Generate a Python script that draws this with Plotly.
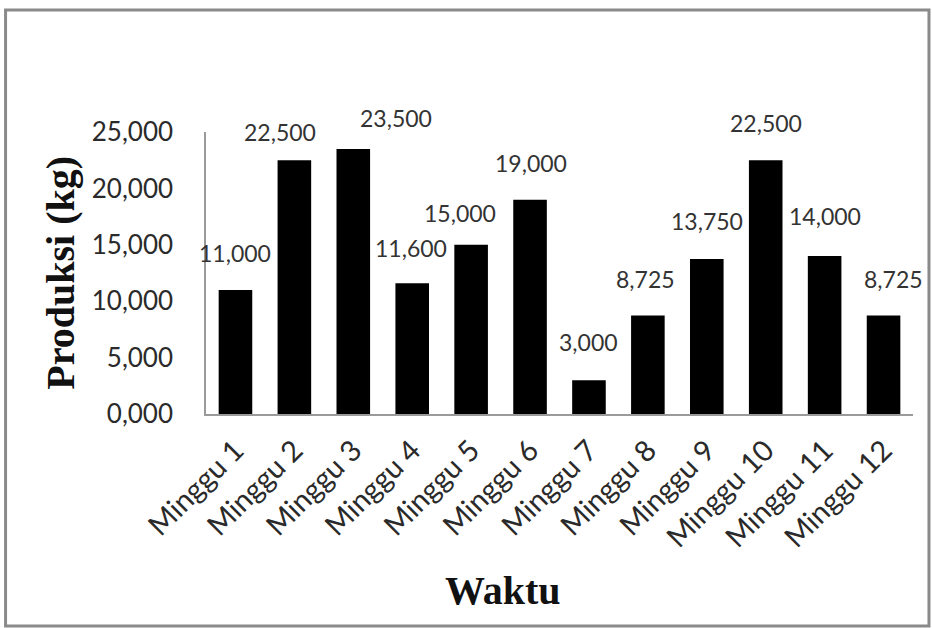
import plotly.graph_objects as go

# data
weeks = [f"Minggu {i}" for i in range(1, 13)]
produksi = [11000, 22500, 23500, 11600, 15000, 19000, 3000, 8725, 13750, 22500, 14000, 8725]
value_text = ["11,000", "22,500", "23,500", "11,600", "15,000", "19,000",
              "3,000", "8,725", "13,750", "22,500", "14,000", "8,725"]
y_ticks = [0, 5000, 10000, 15000, 20000, 25000]
y_tick_text = ["0,000", "5,000", "10,000", "15,000", "20,000", "25,000"]

# label nudges (px), Excel-style placement
label_dx = [0, -14, 43, -1, -11, 1, 0, -2, 0, 0, 0, 10]
label_dy = [37, 28, 31, 35, 32, 37, 38, 37, 38, 37, 40, 37]

SANS = "Lato, 'Open Sans', sans-serif"
SERIF = "'Liberation Serif', 'DejaVu Serif', serif"

fig = go.Figure(go.Bar(
    x=weeks,
    y=produksi,
    marker=dict(color="#000000", line=dict(width=0)),
    width=0.57,
    hoverinfo="skip",
))

for i, (w, v, t) in enumerate(zip(weeks, produksi, value_text)):
    fig.add_annotation(
        x=w, y=v, text=t, showarrow=False,
        xshift=label_dx[i], yshift=label_dy[i],
        yanchor="middle", xanchor="center",
        font=dict(family=SANS, size=23, color="#333333"),
    )

# axis titles
fig.add_annotation(
    xref="paper", yref="paper", x=-0.207, y=0.5,
    text="<b>Produksi (kg)</b>", textangle=-90, showarrow=False,
    xanchor="center", yanchor="middle",
    font=dict(family=SERIF, size=40, color="#111111"),
)
fig.add_annotation(
    xref="paper", yref="paper", x=0.42, y=-0.625,
    text="<b>Waktu</b>", showarrow=False,
    xanchor="center", yanchor="middle",
    font=dict(family=SERIF, size=40, color="#111111"),
)

# outer frame
fig.add_shape(
    type="rect", xref="paper", yref="paper",
    x0=-0.2835, x1=1.0226, y0=-0.752, y1=1.4326,
    line=dict(color="#8a8a8a", width=3),
)

fig.update_layout(
    width=932,
    height=628,
    margin=dict(l=206, r=19, t=132, b=214, autoexpand=False),
    paper_bgcolor="white",
    plot_bgcolor="white",
    showlegend=False,
    bargap=0.43,
    xaxis=dict(
        automargin=False,
        range=[-0.5, 11.5],
        showline=True, linecolor="#9a9a9a", linewidth=1.5,
        showgrid=False, ticks="", tickangle=-45,
        tickfont=dict(family=SANS, size=29, color="#2a2a2a"),
        ticklabelstandoff=6,
    ),
    yaxis=dict(
        automargin=False,
        range=[0, 25000],
        tickvals=y_ticks, ticktext=y_tick_text,
        showline=True, linecolor="#9a9a9a", linewidth=1.5,
        showgrid=False, zeroline=False, ticks="",
        tickfont=dict(family=SANS, size=26, color="#2a2a2a"),
        ticklabelstandoff=26,
    ),
)

# drop the default body margin so the figure sits at the page origin
fig.write_html(
    "out.html",
    config={"displayModeBar": False},
    post_script="document.body.style.margin='0';",
)
